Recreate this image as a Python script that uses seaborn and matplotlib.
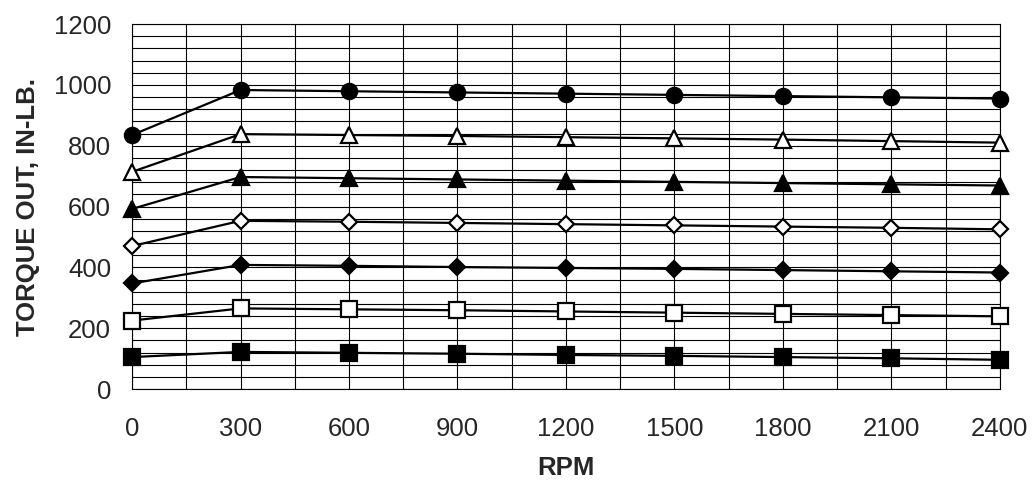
import numpy as np
import pandas as pd
import matplotlib
matplotlib.use("Agg")
import matplotlib.pyplot as plt
import seaborn as sns

# ---- data ----
rpm = [0, 300, 600, 900, 1200, 1500, 1800, 2100, 2400]
circle_filled   = [835, 983, 979, 975, 971, 967, 963, 959, 955]
triangle_open   = [714, 838, 835, 832, 828, 824, 820, 815, 810]
triangle_filled = [592, 697, 693, 689, 685, 681, 677, 673, 669]
diamond_open    = [470, 553, 550, 546, 542, 538, 534, 530, 525]
diamond_filled  = [347, 408, 405, 401, 398, 395, 391, 387, 383]
square_open     = [225, 265, 262, 259, 255, 251, 247, 243, 239]
square_filled   = [105, 122, 119, 116, 112, 109, 105, 101, 96]

series = [
    (circle_filled,   "o", 11,  "black"),
    (triangle_open,   "^", 11,  "white"),
    (triangle_filled, "^", 11,  "black"),
    (diamond_open,    "D", 8,   "white"),
    (diamond_filled,  "D", 8,   "black"),
    (square_open,     "s", 11,  "white"),
    (square_filled,   "s", 11,  "black"),
]

sns.set_style("white")
plt.rcParams["font.family"] = ["Liberation Sans", "DejaVu Sans"]

fig = plt.figure(figsize=(10.34, 4.87), dpi=100)
ax = fig.add_axes([0.1277, 0.2012, 0.967 - 0.1277, 0.9507 - 0.2012])

for vals, mk, ms, face in series:
    sns.lineplot(x=rpm, y=vals, ax=ax, color="black", linewidth=1.6,
                 marker=mk, markersize=ms, markerfacecolor=face,
                 markeredgecolor="black", markeredgewidth=1.6, zorder=3,
                 clip_on=False)

ax.set_xlim(0, 2400)
ax.set_ylim(0, 1200)
ax.set_xticks(rpm)
ax.set_xticks(np.arange(150, 2400, 300), minor=True)
ax.set_yticks(np.arange(0, 1201, 200))
ax.set_yticks(np.arange(0, 1201, 40), minor=True)

ax.grid(True, which="both", color="black", linewidth=0.8)
ax.tick_params(axis="both", which="major", direction="out", length=6,
               width=0.8, color="black", labelsize=18.5)
ax.tick_params(axis="x", pad=14)
ax.tick_params(axis="y", pad=9)
ax.tick_params(axis="both", which="minor", length=0)

for sp in ax.spines.values():
    sp.set_color("black")
    sp.set_linewidth(0.8)

ax.set_xlabel("RPM", fontsize=18.5, fontweight="bold", labelpad=11)
ax.set_ylabel("TORQUE OUT, IN-LB.", fontsize=18.5, fontweight="bold", labelpad=10)

fig.savefig("out.png", dpi=100)
